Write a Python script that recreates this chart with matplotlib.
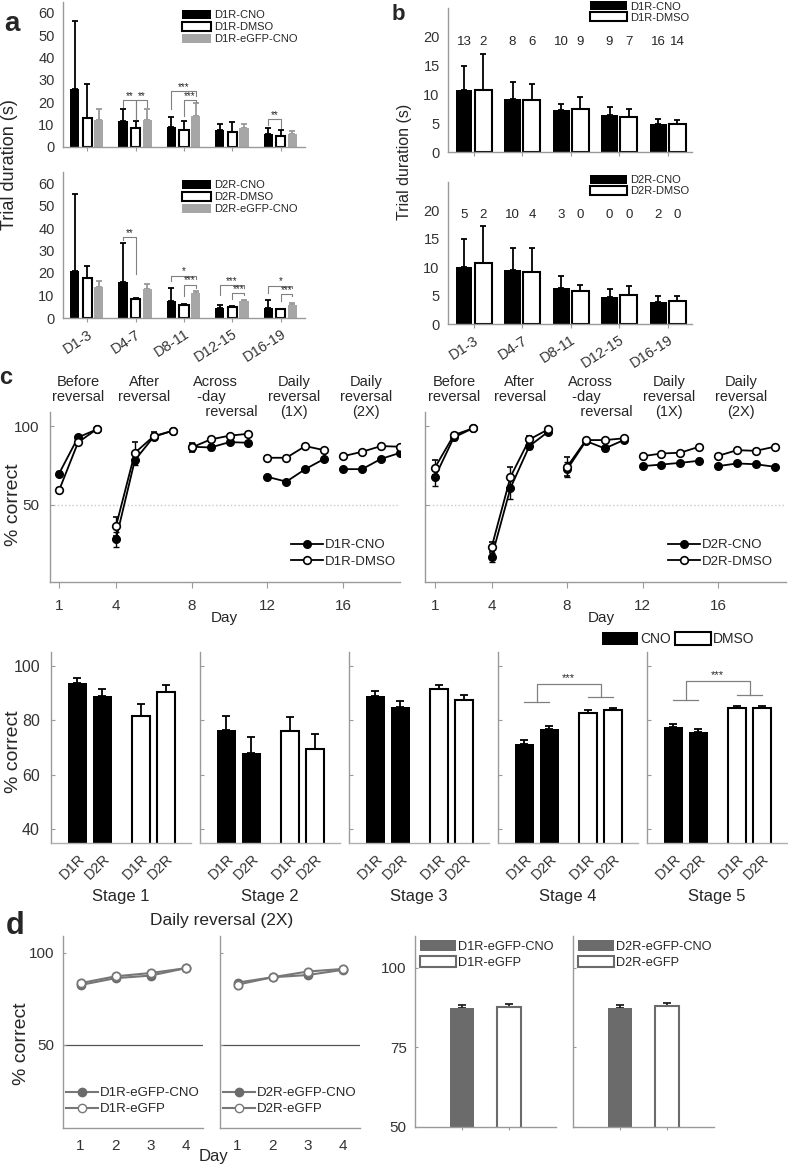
import numpy as np
import matplotlib
matplotlib.use('Agg')
import matplotlib.pyplot as plt
from matplotlib.patches import Patch
from matplotlib.lines import Line2D

plt.rcParams['font.family'] = ['Liberation Sans', 'DejaVu Sans']
plt.rcParams['text.color'] = '#262626'
plt.rcParams['axes.labelcolor'] = '#262626'

#%% data

groups = ['D1-3', 'D4-7', 'D8-11', 'D12-15', 'D16-19']

# panel a: trial duration (s), mean and upper error
a_d1_cno = [26, 11.5, 9, 7.5, 6]
a_d1_cno_err = [30.5, 5.5, 4.5, 3, 2.5]
a_d1_dmso = [13, 8.5, 7.5, 6.5, 5]
a_d1_dmso_err = [15, 3, 4, 4.5, 2.5]
a_d1_gfp = [12, 12, 14, 8.5, 6]
a_d1_gfp_err = [5, 5, 5.5, 2, 1]

a_d2_cno = [21, 16, 7.5, 4.5, 4.5]
a_d2_cno_err = [34, 17.5, 6, 1.5, 3.5]
a_d2_dmso = [18, 8.5, 6, 5, 4]
a_d2_dmso_err = [5, 0.5, 0.2, 0.2, 0.2]
a_d2_gfp = [14, 13, 11, 7.5, 6]
a_d2_gfp_err = [2.5, 2, 1, 0.5, 0.5]

# significance brackets: (group, bar i, bar j, height, leg i bottom, leg j bottom, label)
a_d1_sig = [(1, 0, 1, 21, 18, 12.5, '**'), (1, 1, 2, 21, 12.5, 18, '**'),
            (2, 0, 2, 25, 17, 23, '***'), (2, 1, 2, 21, 14, 20, '***'),
            (4, 0, 1, 12.5, 10, 8.5, '**')]
a_d2_sig = [(1, 0, 1, 36, 34.5, 19.5, '**'),
            (2, 0, 2, 18.8, 16.3, 17.5, '*'), (2, 1, 2, 14.8, 10, 13.5, '***'),
            (3, 0, 2, 14.5, 10.4, 13.5, '***'), (3, 1, 2, 11, 8.5, 10.2, '***'),
            (4, 0, 2, 14.4, 11, 13.5, '*'), (4, 1, 2, 10.7, 7.5, 10, '***')]

# panel b
b_d1_cno = [10.7, 9.3, 7.3, 6.5, 4.95]
b_d1_cno_err = [4.3, 2.9, 1.1, 1.3, 0.85]
b_d1_dmso = [10.85, 9.0, 7.5, 6.1, 4.8]
b_d1_dmso_err = [6.25, 2.8, 2.1, 1.3, 0.7]
b_d2_cno = [10.05, 9.5, 6.3, 4.65, 3.9]
b_d2_cno_err = [4.85, 3.8, 2.1, 1.45, 1.0]
b_d2_dmso = [10.7, 9.05, 5.8, 5.1, 4.0]
b_d2_dmso_err = [6.55, 4.25, 1.1, 1.5, 0.9]
b_d1_n_cno = [13, 8, 10, 9, 16]
b_d1_n_dmso = [2, 6, 9, 7, 14]
b_d2_n_cno = [5, 10, 3, 0, 2]
b_d2_n_dmso = [2, 4, 0, 0, 0]

# panel c, learning curves
days = np.arange(1, 20)
stage_days = [[1, 2, 3], [4, 5, 6, 7], [8, 9, 10, 11], [12, 13, 14, 15], [16, 17, 18, 19]]
stage_titles = ['Before\nreversal', 'After\nreversal', 'Across\n -day\n   reversal',
                'Daily\nreversal\n(1X)', 'Daily\nreversal\n(2X)']

c_d1_cno = [69.9, 92.8, 97.9, 28.2, 78.4, 93.2, 97.0, 86.9, 86.4, 89.8, 89.4,
            67.8, 64.8, 72.7, 79.2, 72.7, 72.7, 79.2, 83.0]
c_d1_cno_err = [1.5, 1.5, 1, 5, 3, 1.5, 1, 2.5, 1.5, 1, 1, 1, 1, 1, 1, 1, 1, 1, 1]
c_d1_dmso = [59.3, 89.6, 98.1, 36.4, 83.0, 93.6, 97.0, 86.4, 91.5, 93.9, 95.1,
             79.9, 79.9, 87.3, 84.7, 80.9, 83.7, 87.3, 86.9]
c_d1_dmso_err = [1.5, 1.5, 1, 6, 7, 2.5, 1, 3, 1.5, 1, 1, 1, 1, 1, 1, 1, 1, 1, 1]

c_d2_cno = [67.8, 92.8, 98.5, 16.9, 60.8, 87.3, 96.4, 72.5, 90.5, 85.8, 91.1,
            74.6, 75.6, 76.7, 78.0, 74.6, 76.3, 75.8, 74.2]
c_d2_cno_err = [6, 1.5, 1, 3, 7, 2, 1, 5, 1, 1.5, 1, 1, 1, 1, 1, 1, 1, 1, 1]
c_d2_dmso = [73.7, 94.3, 98.5, 23.3, 67.8, 91.5, 97.9, 74.2, 91.1, 91.1, 92.2,
             80.9, 82.6, 83.1, 86.9, 81.1, 84.7, 84.3, 86.9]
c_d2_dmso_err = [5, 1.5, 1, 3, 6, 2, 1, 6, 1, 1, 1, 1, 1, 1, 1, 1, 1, 1, 1]

# panel c, stage means
stages = ['Stage 1', 'Stage 2', 'Stage 3', 'Stage 4', 'Stage 5']
bar_labels = ['D1R', 'D2R', 'D1R', 'D2R']
cb_cno_d1 = [93.5, 76.3, 89.0, 71.2, 77.5]
cb_cno_d1_err = [2.0, 5.1, 1.6, 1.4, 1.0]
cb_cno_d2 = [88.7, 68.0, 84.8, 76.9, 75.7]
cb_cno_d2_err = [2.9, 5.8, 2.1, 0.8, 0.9]
cb_dmso_d1 = [81.4, 76.0, 91.4, 82.8, 84.6]
cb_dmso_d1_err = [4.4, 5.1, 1.6, 1.1, 0.7]
cb_dmso_d2 = [90.3, 69.6, 87.3, 83.6, 84.6]
cb_dmso_d2_err = [2.5, 5.2, 2.0, 0.7, 0.7]
# (stage, left line y, right line y, top y)
cb_sig = [(3, 86.5, 88.4, 93.3), (4, 87.5, 89.3, 94.5)]

# panel d
d_days = [1, 2, 3, 4]
d_d1_cno = [82.6, 86.3, 87.7, 91.7]
d_d1_gfp = [83.6, 87.3, 89.1, 91.7]
d_d2_cno = [83.9, 86.8, 88.0, 90.8]
d_d2_gfp = [82.8, 86.8, 89.9, 91.3]
d_bar_d1 = [87.3, 87.8]
d_bar_d1_err = [0.9, 0.7]
d_bar_d2 = [87.4, 88.0]
d_bar_d2_err = [0.9, 0.8]

#%% helpers

W, H = 788, 1167
fig = plt.figure(figsize=(W / 100, H / 100), dpi=100)

SPINE = '#9a9a9a'
GREY = '#a6a6a6'
DGREY = '#6b6b6b'


def add_ax(l, t, r, b):
    return fig.add_axes([l / W, 1 - b / H, (r - l) / W, (b - t) / H])


def style(ax, fs=10.5):
    for s in ['top', 'right']:
        ax.spines[s].set_visible(False)
    for s in ['left', 'bottom']:
        ax.spines[s].set_color(SPINE)
        ax.spines[s].set_linewidth(1.0)
    ax.tick_params(colors=SPINE, labelcolor='#333333', labelsize=fs, width=0.8)


def legend_px(ax, handles, labels, x, y, fs, **kw):
    opts = dict(loc='upper left', bbox_to_anchor=(x / W, 1 - y / H),
                bbox_transform=fig.transFigure, frameon=False, fontsize=fs,
                borderpad=0, borderaxespad=0, handletextpad=0.3, labelspacing=0.15)
    opts.update(kw)
    return ax.legend(handles, labels, **opts)


def up_err(ax, x, y, e, color='k', cap=2.5):
    ax.errorbar(x, y, yerr=[np.zeros(len(e)), e], fmt='none', ecolor=color,
                elinewidth=1.3, capsize=cap, capthick=1.3, zorder=1)


def ftext(x, y, s, **kw):
    fig.text(x / W, 1 - y / H, s, **kw)


#%% panel a

off_a = [-0.26, 0, 0.24]
wa = 0.19


def panel_a(top, bottom, data, sig, names, xlabels):
    cno, cno_e, dmso, dmso_e, gfp, gfp_e = data
    ax = add_ax(63, top, 305, bottom)
    style(ax)
    x = np.arange(len(groups))
    ax.bar(x + off_a[0], cno, wa, color='k', zorder=2)
    ax.bar(x + off_a[1], dmso, wa, color='white', edgecolor='k', linewidth=1.5, zorder=2)
    ax.bar(x + off_a[2], gfp, wa, color=GREY, zorder=2)
    up_err(ax, x + off_a[0], cno, cno_e, cap=2)
    up_err(ax, x + off_a[1], dmso, dmso_e, cap=2)
    up_err(ax, x + off_a[2], gfp, gfp_e, color='#999999', cap=2)
    for g, i, j, yy, yi, yj, lab in sig:
        x1, x2 = g + off_a[i], g + off_a[j]
        ax.plot([x1, x1, x2, x2], [yi, yy, yy, yj], color='#808080', lw=0.8, zorder=3)
        ax.text((x1 + x2) / 2, yy - 0.3, lab, ha='center', va='bottom', fontsize=7)
    ax.set_xlim(-0.5, 4.5)
    ax.set_ylim(0, 65)
    ax.set_yticks(range(0, 61, 10))
    ax.set_xticks(x)
    ax.tick_params(axis='y', length=0, pad=6)
    ax.tick_params(axis='x', length=3, direction='out')
    if xlabels:
        ax.set_xticklabels(groups, rotation=33, ha='right', rotation_mode='anchor')
    else:
        ax.set_xticklabels([])
    h = [Patch(fc='k'), Patch(fc='white', ec='k', lw=1.5), Patch(fc=GREY)]
    legend_px(ax, h, names, 182, top + 8, 8, handlelength=2.6, handleheight=0.9)
    return ax


panel_a(1.75, 147, (a_d1_cno, a_d1_cno_err, a_d1_dmso, a_d1_dmso_err, a_d1_gfp, a_d1_gfp_err),
        a_d1_sig, ['D1R-CNO', 'D1R-DMSO', 'D1R-eGFP-CNO'], False)
panel_a(171.75, 318, (a_d2_cno, a_d2_cno_err, a_d2_dmso, a_d2_dmso_err, a_d2_gfp, a_d2_gfp_err),
        a_d2_sig, ['D2R-CNO', 'D2R-DMSO', 'D2R-eGFP-CNO'], True)
ftext(10, 165, 'Trial duration (s)', rotation=90, ha='center', va='center', fontsize=13)
ftext(12, 24, 'a', fontsize=20, fontweight='bold', ha='center', va='center')

#%% panel b

wb = 0.35


def panel_b(top, bottom, data, ns, names, xlabels):
    cno, cno_e, dmso, dmso_e = data
    n_cno, n_dmso = ns
    ax = add_ax(448, top, 692, bottom)
    style(ax)
    x = np.arange(len(groups))
    ax.bar(x - 0.2, cno, wb, color='k', zorder=2)
    ax.bar(x + 0.2, dmso, wb, color='white', edgecolor='k', linewidth=1.5, zorder=2)
    up_err(ax, x - 0.2, cno, cno_e)
    up_err(ax, x + 0.2, dmso, dmso_e)
    for i in range(len(groups)):
        ax.text(x[i] - 0.2, 19.2, str(n_cno[i]), ha='center', va='center', fontsize=9.5)
        ax.text(x[i] + 0.2, 19.2, str(n_dmso[i]), ha='center', va='center', fontsize=9.5)
    ax.set_xlim(-0.53, 4.5)
    ax.set_ylim(0, 25)
    ax.set_yticks(range(0, 21, 5))
    ax.set_xticks(x)
    ax.tick_params(axis='y', length=0, pad=6)
    ax.tick_params(axis='x', length=3, direction='out')
    if xlabels:
        ax.set_xticklabels(groups, rotation=33, ha='right', rotation_mode='anchor')
    else:
        ax.set_xticklabels([])
    h = [Patch(fc='k'), Patch(fc='white', ec='k', lw=1.5)]
    legend_px(ax, h, names, 590, top - 7, 8, handlelength=3.3, handleheight=0.9,
              labelspacing=0.05)
    return ax


panel_b(8.2, 152, (b_d1_cno, b_d1_cno_err, b_d1_dmso, b_d1_dmso_err), (b_d1_n_cno, b_d1_n_dmso),
        ['D1R-CNO', 'D1R-DMSO'], False)
panel_b(181.5, 324, (b_d2_cno, b_d2_cno_err, b_d2_dmso, b_d2_dmso_err), (b_d2_n_cno, b_d2_n_dmso),
        ['D2R-CNO', 'D2R-DMSO'], True)
ftext(404, 162, 'Trial duration (s)', rotation=90, ha='center', va='center', fontsize=11.5)
ftext(398, 14, 'b', fontsize=16, fontweight='bold', ha='center', va='center')

#%% panel c, learning curves


def panel_c_lines(l, r, xlim, cno, cno_e, dmso, dmso_e, names, ylabels, title_x, leg_x):
    ax = add_ax(l, 411.8, r, 582.4)
    style(ax, fs=11)
    ax.axhline(50, color='#c8c8c8', ls=':', lw=1, zorder=0)
    cno, cno_e = np.array(cno), np.array(cno_e)
    dmso, dmso_e = np.array(dmso), np.array(dmso_e)
    for sd in stage_days:
        idx = np.array(sd) - 1
        ax.errorbar(sd, cno[idx], yerr=cno_e[idx], color='k', lw=1.3, marker='o', ms=5.5,
                    mfc='k', mec='k', capsize=2, elinewidth=1, zorder=3)
        ax.errorbar(sd, dmso[idx], yerr=dmso_e[idx], color='k', lw=1.3, marker='o', ms=5.5,
                    mfc='white', mec='k', mew=1.2, capsize=2, elinewidth=1, zorder=4)
    for tx, t in zip(title_x, stage_titles):
        if t.startswith('Across'):
            ax.text(tx, 132, t, ha='left', va='top', fontsize=10.5, linespacing=1.05,
                    multialignment='left')
        else:
            ax.text(tx, 132, t, ha='center', va='top', fontsize=10.5, linespacing=1.05,
                    multialignment='center')
    ax.set_xlim(*xlim)
    ax.set_ylim(1, 109)
    ax.set_xticks([1, 4, 8, 12, 16])
    ax.set_yticks([50, 100])
    ax.tick_params(axis='y', direction='in', length=3, pad=8)
    ax.tick_params(axis='x', direction='out', length=4, pad=8)
    if not ylabels:
        ax.set_yticklabels([])
    h = [Line2D([], [], color='k', lw=1.3, marker='o', ms=5.5, mfc='k'),
         Line2D([], [], color='k', lw=1.3, marker='o', ms=5.5, mfc='white', mew=1.2)]
    legend_px(ax, h, names, leg_x, 539, 9.5,
              handlelength=2.4, labelspacing=0.35, handletextpad=0.2)
    return ax


panel_c_lines(50, 400, (0.52, 19.0), c_d1_cno, c_d1_cno_err, c_d1_dmso, c_d1_dmso_err,
              ['D1R-CNO', 'D1R-DMSO'], True, [2.0, 5.5, 8.05, 13.4, 17.2], 291)
panel_c_lines(425, 786, (0.47, 19.6), c_d2_cno, c_d2_cno_err, c_d2_dmso, c_d2_dmso_err,
              ['D2R-CNO', 'D2R-DMSO'], False, [2.0, 5.5, 8.05, 13.4, 17.2], 668)
ftext(224, 618, 'Day', ha='center', va='center', fontsize=11)
ftext(601, 618, 'Day', ha='center', va='center', fontsize=11)
ftext(14, 505, '% correct', rotation=90, ha='center', va='center', fontsize=14)
ftext(6, 378, 'c', fontsize=17, fontweight='bold', ha='center', va='center')

#%% panel c, stage bars

pos = np.array([1.05, 2.05, 3.6, 4.6])
wc = 0.75
for i in range(len(stages)):
    l = 51 + i * 149
    ax = add_ax(l, 652, l + 140, 843)
    style(ax, fs=11.5)
    ax.spines['bottom'].set_color('#b0b0b0')
    vals = [cb_cno_d1[i], cb_cno_d2[i], cb_dmso_d1[i], cb_dmso_d2[i]]
    errs = [cb_cno_d1_err[i], cb_cno_d2_err[i], cb_dmso_d1_err[i], cb_dmso_d2_err[i]]
    ax.bar(pos[:2], vals[:2], wc, color='k', zorder=2)
    ax.bar(pos[2:], vals[2:], wc, color='white', edgecolor='k', linewidth=1.5, zorder=2)
    up_err(ax, pos, vals, errs, cap=3)
    for st, yl, yr, yt in cb_sig:
        if st == i:
            xl, xr = pos[:2].mean(), pos[2:].mean()
            ax.plot(pos[:2], [yl, yl], color='#808080', lw=0.9)
            ax.plot(pos[2:], [yr, yr], color='#808080', lw=0.9)
            ax.plot([xl, xl, xr, xr], [yl, yt, yt, yr], color='#808080', lw=0.9)
            ax.text((xl + xr) / 2, yt + 0.3, '***', ha='center', va='bottom', fontsize=8)
    ax.set_xlim(0, 5.6)
    ax.set_ylim(35, 105)
    ax.set_yticks([40, 60, 80, 100])
    ax.set_xticks(pos)
    ax.set_xticklabels(bar_labels, rotation=45, ha='right', rotation_mode='anchor')
    ax.tick_params(axis='x', length=0, pad=6, labelsize=10.5)
    ax.tick_params(axis='y', direction='in', length=3, pad=8)
    if i > 0:
        ax.set_yticklabels([])
    ftext(l + 70, 897, stages[i], ha='center', va='center', fontsize=12)
    if i == 3:
        h = [Patch(fc='k'), Patch(fc='white', ec='k', lw=1.5)]
        legend_px(ax, h, ['CNO', 'DMSO'], 602, 632, 10, ncol=2, handlelength=2.6,
                  handleheight=1.1, columnspacing=0.3, handletextpad=0.15)
ftext(14, 752, '% correct', rotation=90, ha='center', va='center', fontsize=14)

#%% panel d, line plots

for k, (cno, gfp, names) in enumerate([(d_d1_cno, d_d1_gfp, ['D1R-eGFP-CNO', 'D1R-eGFP']),
                                       (d_d2_cno, d_d2_gfp, ['D2R-eGFP-CNO', 'D2R-eGFP'])]):
    l = 63 + k * 157
    ax = add_ax(l, 936.4, l + 140, 1127.8)
    style(ax, fs=11)
    ax.axhline(50, color='#555555', lw=0.9, zorder=0)
    ax.plot(d_days, cno, color='#777777', lw=1.5, marker='o', ms=6, mfc=DGREY, mec=DGREY, zorder=3)
    ax.plot(d_days, gfp, color='#777777', lw=1.5, marker='o', ms=6, mfc='white', mec='#777777',
            mew=1.3, zorder=4)
    ax.set_xlim(0.5, 4.5)
    ax.set_ylim(5, 109)
    ax.set_xticks(d_days)
    ax.set_yticks([50, 100])
    ax.tick_params(axis='x', length=0, pad=8)
    ax.tick_params(axis='y', direction='in', length=2, pad=6)
    if k > 0:
        ax.set_yticklabels([])
    h = [Line2D([], [], color='#777777', lw=1.5, marker='o', ms=6, mfc=DGREY, mec=DGREY),
         Line2D([], [], color='#777777', lw=1.5, marker='o', ms=6, mfc='white', mec='#777777')]
    legend_px(ax, h, names, l + 3, 1087, 9.5, handlelength=2.4, labelspacing=0.3,
              handletextpad=0.2)
ftext(222, 920, 'Daily reversal (2X)', ha='center', va='center', fontsize=12.5)
ftext(213, 1157, 'Day', ha='center', va='center', fontsize=12)
ftext(22, 1044, '% correct', rotation=90, ha='center', va='center', fontsize=14)
ftext(15, 926, 'd', fontsize=22, fontweight='bold', ha='center', va='center')

#%% panel d, bars

for k, (vals, errs, names) in enumerate([(d_bar_d1, d_bar_d1_err, ['D1R-eGFP-CNO', 'D1R-eGFP']),
                                         (d_bar_d2, d_bar_d2_err, ['D2R-eGFP-CNO', 'D2R-eGFP'])]):
    l = 415 + k * 158
    ax = add_ax(l, 936, l + 141, 1127)
    style(ax, fs=11)
    ax.bar([1], vals[:1], 0.5, color=DGREY, zorder=2)
    ax.bar([2], vals[1:], 0.5, color='white', edgecolor=DGREY, linewidth=1.5, zorder=2)
    up_err(ax, [1, 2], vals, errs, color='#222222', cap=3)
    ax.set_xlim(0, 3)
    ax.set_ylim(50, 110)
    ax.set_xticks([1, 2])
    ax.set_xticklabels([])
    ax.set_yticks([50, 75, 100])
    ax.tick_params(axis='x', length=2, direction='out')
    ax.tick_params(axis='y', direction='in', length=2, pad=6)
    if k > 0:
        ax.set_yticklabels([])
    h = [Patch(fc=DGREY), Patch(fc='white', ec=DGREY, lw=1.5)]
    legend_px(ax, h, names, l + 5, 940, 9.2, handlelength=2.8, handleheight=1.0,
              labelspacing=0.2, handletextpad=0.2)

plt.savefig('out.png', dpi=100)
